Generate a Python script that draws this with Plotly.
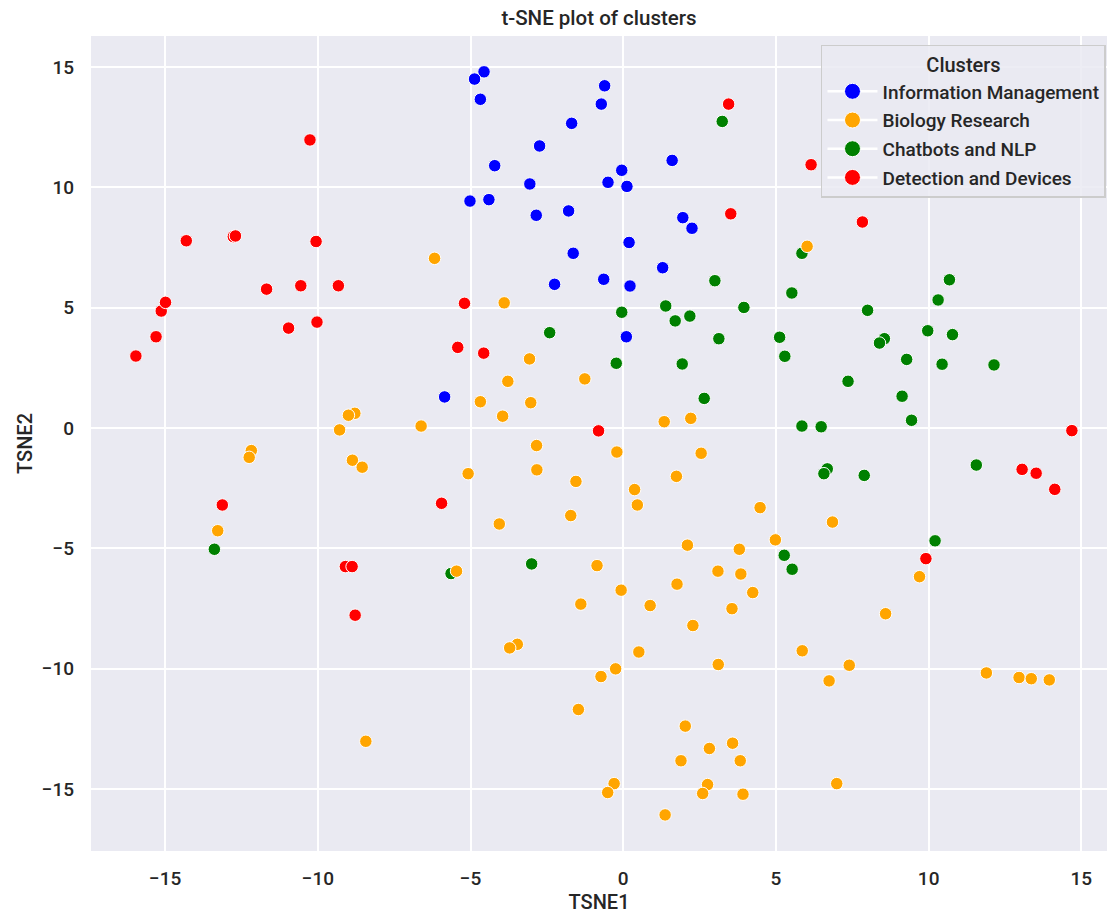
import plotly.graph_objects as go

# ---- data ----
cluster_names = ["Information Management", "Biology Research", "Chatbots and NLP", "Detection and Devices"]
cluster_colors = ["blue", "orange", "green", "red"]

im_x = [-4.56, -4.87, -4.68, -0.61, -0.72, -1.69, -2.74, 1.60, -4.21, -0.05, -0.50, 0.12, -3.06, -5.02,
        -4.40, -2.85, -1.79, 1.95, 2.25, 0.19, -1.64, 1.29, -2.25, -0.64, 0.22, 0.10, -5.85]
im_y = [14.80, 14.50, 13.66, 14.22, 13.46, 12.66, 11.72, 11.12, 10.90, 10.71, 10.21, 10.04, 10.14, 9.43,
        9.49, 8.84, 9.02, 8.74, 8.30, 7.71, 7.26, 6.66, 5.97, 6.18, 5.90, 3.79, 1.29]

cn_x = [3.24, 3.00, 5.85, 10.68, 5.52, 10.31, 3.95, 8.00, -0.05, 1.39, 1.70, 2.18, -2.41, 3.13, 5.12,
        9.97, 10.78, 8.55, 8.39, -0.23, 1.93, 5.29, 9.28, 10.44, 12.14, 7.36, 2.65, 9.13, 9.44, 5.85,
        6.48, 11.56, 6.68, 6.57, 7.89, 10.21, 5.27, 5.53, -3.00, -5.64, -13.39]
cn_y = [12.74, 6.12, 7.26, 6.16, 5.61, 5.32, 5.01, 4.89, 4.81, 5.07, 4.45, 4.65, 3.96, 3.71, 3.77,
        4.04, 3.88, 3.71, 3.53, 2.69, 2.66, 2.98, 2.85, 2.65, 2.62, 1.94, 1.23, 1.32, 0.32, 0.08,
        0.05, -1.54, -1.70, -1.90, -1.97, -4.69, -5.29, -5.87, -5.65, -6.05, -5.04]

br_x = [-6.18, -3.90, 6.02, -3.07, -3.78, -1.26, -4.68, -3.03, -3.95, -6.62, 1.34, 2.21, -8.79, -9.00,
        -9.29, -12.18, -12.25, -8.87, -8.55, -2.84, -0.21, 2.55, -5.08, -2.83, -1.55, 1.74, 0.37, 0.46,
        4.48, -1.72, -4.06, 6.85, -13.28, 4.98, 2.10, 3.80, -0.86, -5.46, 3.10, 3.85, 9.70, -0.07,
        1.76, 4.24, -1.39, 0.88, 3.56, 8.59, 2.28, -3.47, -3.72, 0.51, 5.86, -0.25, -0.73, 3.11,
        7.40, 6.74, 11.89, 12.96, 13.36, 13.95, -1.47, 2.03, -8.43, 2.82, 3.58, 1.89, 3.83, -0.30,
        -0.51, 2.76, 2.60, 3.92, 1.37, 6.99]
br_y = [7.05, 5.20, 7.55, 2.87, 1.94, 2.04, 1.09, 1.05, 0.49, 0.08, 0.26, 0.40, 0.61, 0.53,
        -0.08, -0.94, -1.22, -1.34, -1.63, -0.73, -1.00, -1.05, -1.90, -1.74, -2.22, -2.01, -2.56, -3.20,
        -3.31, -3.64, -3.99, -3.91, -4.27, -4.65, -4.87, -5.04, -5.72, -5.95, -5.95, -6.07, -6.18, -6.74,
        -6.49, -6.84, -7.32, -7.38, -7.51, -7.72, -8.21, -8.99, -9.14, -9.31, -9.26, -10.01, -10.33, -9.83,
        -9.86, -10.51, -10.18, -10.37, -10.42, -10.47, -11.70, -12.39, -13.02, -13.32, -13.10, -13.83, -13.83, -14.78,
        -15.15, -14.82, -15.19, -15.22, -16.08, -14.78]

dd_x = [-15.96, -15.30, -15.13, -14.99, -14.31, -12.77, -12.70, -11.68, -10.96, -10.56, -10.26, -10.06,
        -10.03, -9.33, -5.20, -5.42, -4.57, -13.13, -5.95, -9.10, -8.88, -8.78, -0.81, 3.45, 3.52,
        6.15, 7.83, 9.91, 13.06, 13.52, 14.13, 14.69]
dd_y = [2.99, 3.79, 4.86, 5.22, 7.78, 7.95, 7.98, 5.77, 4.15, 5.91, 11.97, 7.75,
        4.40, 5.91, 5.18, 3.35, 3.11, -3.20, -3.13, -5.76, -5.76, -7.78, -0.12, 13.46, 8.90,
        10.94, 8.56, -5.43, -1.72, -1.88, -2.55, -0.11]

x_ticks = [-15, -10, -5, 0, 5, 10, 15]
y_ticks = [-15, -10, -5, 0, 5, 10, 15]


def tick_text(vals):
    return [("\u2212" + str(-v)) if v < 0 else str(v) for v in vals]


FONT = "Roboto"
TXT = "#262626"
W = 500

series = {
    "Information Management": (im_x, im_y, "blue"),
    "Biology Research": (br_x, br_y, "orange"),
    "Chatbots and NLP": (cn_x, cn_y, "green"),
    "Detection and Devices": (dd_x, dd_y, "red"),
}
draw_order = ["Information Management", "Chatbots and NLP", "Biology Research", "Detection and Devices"]

fig = go.Figure()
for name in draw_order:
    xs, ys, col = series[name]
    fig.add_trace(go.Scatter(
        x=xs, y=ys, mode="markers", name=name, showlegend=False,
        marker=dict(color=col, size=12.5, line=dict(color="white", width=1)),
    ))

# legend entries (marker with white line, like seaborn handles)
for name, col in zip(cluster_names, cluster_colors):
    fig.add_trace(go.Scatter(
        x=[None], y=[None], mode="lines+markers", name=name, legendgroup=name,
        line=dict(color="white", width=2.5),
        marker=dict(color=col, size=16, line=dict(color="white", width=1)),
    ))

fig.update_layout(
    width=1107, height=914,
    margin=dict(l=91, r=0, t=36, b=63),
    paper_bgcolor="white",
    plot_bgcolor="#EAEAF2",
    font=dict(family=FONT, size=19, color=TXT, weight=W),
    title=dict(text="t-SNE plot of clusters", x=0.5, xanchor="center", xref="paper",
               y=0.981, yanchor="middle", yref="container",
               font=dict(family=FONT, size=20.5, color=TXT, weight=W)),
    legend=dict(
        x=0.7185, y=0.989, xanchor="left", yanchor="top",
        bgcolor="rgba(234,234,242,0.85)", bordercolor="#CCCCCC", borderwidth=1.5,
        font=dict(family=FONT, size=19, color=TXT, weight=W),
        title=dict(text="Clusters", side="top center", font=dict(family=FONT, size=20, color=TXT, weight=W)),
        tracegroupgap=1, itemsizing="trace", itemwidth=50,
    ),
    xaxis=dict(
        range=[-17.43, 15.84], tickvals=x_ticks, ticktext=tick_text(x_ticks),
        showgrid=True, gridcolor="white", gridwidth=1.6, zeroline=False, showline=False,
        ticks="", ticklabelstandoff=14,
        title=dict(text="TSNE1", font=dict(size=20, color=TXT, weight=W), standoff=6),
    ),
    yaxis=dict(
        range=[-17.58, 16.29], tickvals=y_ticks, ticktext=tick_text(y_ticks),
        showgrid=True, gridcolor="white", gridwidth=1.6, zeroline=False, showline=False,
        ticks="", ticklabelstandoff=16,
        title=dict(text="TSNE2", font=dict(size=20, color=TXT, weight=W), standoff=3),
    ),
)

fig.write_html("out.html")
